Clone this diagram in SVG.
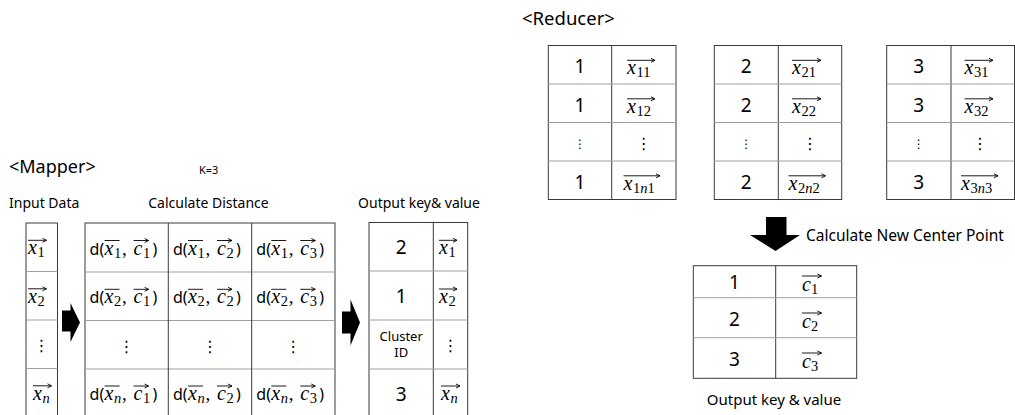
<svg xmlns="http://www.w3.org/2000/svg" width="1015" height="415" viewBox="0 0 1015 415">
<defs>
<marker id="va" markerWidth="6" markerHeight="6" refX="4.5" refY="3" orient="auto" markerUnits="userSpaceOnUse"><path d="M0.5,1 L4.5,3 L0.5,5" fill="none" stroke="#000" stroke-width="0.9"/></marker>
<style>
.t{font-family:"Noto Sans","DejaVu Sans",sans-serif;fill:#000}
.n{font-family:"Noto Sans","DejaVu Sans",sans-serif;font-size:19px;fill:#000;text-anchor:middle}
.m{font-family:"Liberation Serif","DejaVu Serif",serif;font-style:italic;font-size:20px;fill:#000}
.s{font-family:"Liberation Serif","DejaVu Serif",serif;font-size:14.5px;fill:#000}
.si{font-family:"Liberation Serif","DejaVu Serif",serif;font-size:14.5px;font-style:italic;fill:#000}
.pu{font-family:"Liberation Serif","DejaVu Serif",serif;font-size:19px;fill:#000}
.dp{font-family:"Noto Sans","DejaVu Sans",sans-serif;font-size:16px;fill:#000}
.dl{font-family:"DejaVu Sans",sans-serif;font-size:16px;fill:#000;text-anchor:middle}
.ds{font-family:"DejaVu Sans",sans-serif;font-size:12px;fill:#000;text-anchor:middle}
.v{stroke:#000;stroke-width:0.9;fill:none;marker-end:url(#va)}
.box{fill:#fff;stroke:#3a3a3a;stroke-width:1}
.vl{stroke:#3a3a3a;stroke-width:1}
.hl{stroke:#a0a0a0;stroke-width:1}
.blk{fill:#000}
</style>
</defs>
<rect width="1015" height="415" fill="#fff"/>

<g id="labels">
<text class="t" x="9" y="173" font-size="18">&lt;Mapper&gt;</text>
<text class="t" x="199" y="173.5" font-size="11">K=3</text>
<text class="t" x="9" y="208" font-size="14">Input Data</text>
<text class="t" x="208.5" y="208" font-size="14" text-anchor="middle">Calculate Distance</text>
<text class="t" x="419" y="208" font-size="14" text-anchor="middle">Output key&amp; value</text>
<text class="t" x="522" y="25" font-size="18.5">&lt;Reducer&gt;</text>
<text class="t" x="806" y="240.5" font-size="15.5">Calculate New Center Point</text>
<text class="t" x="774" y="405" font-size="15" text-anchor="middle">Output key &amp; value</text>
</g>

<g id="input-data">
<rect class="box" x="26" y="223" width="31.5" height="194" stroke="#7a7a7a"/>
<line class="hl" x1="26" y1="271.5" x2="57.5" y2="271.5"/>
<line class="hl" x1="26" y1="320" x2="57.5" y2="320"/>
<line class="hl" x1="26" y1="368.5" x2="57.5" y2="368.5"/>
<text class="m" x="28" y="254.3">x</text><text class="s" x="37.5" y="257.3">1</text>
<path class="v" d="M28,240.3H46.5"/>
<text class="m" x="28" y="302.8">x</text><text class="s" x="37.5" y="305.8">2</text>
<path class="v" d="M28,288.8H46.5"/>
<text class="dl" x="41.5" y="351">⋮</text>
<text class="m" x="33" y="399.8">x</text><text class="si" x="42.5" y="402.8">n</text>
<path class="v" d="M33,385.8H51.5"/>
</g>

<g id="distance-table">
<rect class="box" x="85" y="223" width="250" height="194"/>
<line class="hl" x1="85" y1="272" x2="335" y2="272"/>
<line class="hl" x1="85" y1="320.5" x2="335" y2="320.5"/>
<line class="hl" x1="85" y1="369" x2="335" y2="369"/>
<line class="vl" x1="168.3" y1="223" x2="168.3" y2="417"/>
<line class="vl" x1="251.7" y1="223" x2="251.7" y2="417"/>
<!-- row 1 -->
<text class="dp" x="89.6" y="254.5">d(</text><text class="m" x="104.6" y="254.5">x</text><text class="s" x="114.1" y="257.5">1</text><text class="pu" x="122.1" y="254.5">,</text><text class="m" x="133.6" y="254.5">c</text><text class="s" x="143.1" y="257.5">1</text><text class="dp" x="152.6" y="254.5">)</text>
<path class="v" d="M104.6,240.5H119.6M133.6,240.5H148.6"/>
<text class="dp" x="173" y="254.5">d(</text><text class="m" x="188" y="254.5">x</text><text class="s" x="197.5" y="257.5">1</text><text class="pu" x="205.5" y="254.5">,</text><text class="m" x="217" y="254.5">c</text><text class="s" x="226.5" y="257.5">2</text><text class="dp" x="236" y="254.5">)</text>
<path class="v" d="M188,240.5H203M217,240.5H232"/>
<text class="dp" x="256.3" y="254.5">d(</text><text class="m" x="271.3" y="254.5">x</text><text class="s" x="280.8" y="257.5">1</text><text class="pu" x="288.8" y="254.5">,</text><text class="m" x="300.3" y="254.5">c</text><text class="s" x="309.8" y="257.5">3</text><text class="dp" x="319.3" y="254.5">)</text>
<path class="v" d="M271.3,240.5H286.3M300.3,240.5H315.3"/>
<!-- row 2 -->
<text class="dp" x="89.6" y="303.3">d(</text><text class="m" x="104.6" y="303.3">x</text><text class="s" x="114.1" y="306.3">2</text><text class="pu" x="122.1" y="303.3">,</text><text class="m" x="133.6" y="303.3">c</text><text class="s" x="143.1" y="306.3">1</text><text class="dp" x="152.6" y="303.3">)</text>
<path class="v" d="M104.6,289.3H119.6M133.6,289.3H148.6"/>
<text class="dp" x="173" y="303.3">d(</text><text class="m" x="188" y="303.3">x</text><text class="s" x="197.5" y="306.3">2</text><text class="pu" x="205.5" y="303.3">,</text><text class="m" x="217" y="303.3">c</text><text class="s" x="226.5" y="306.3">2</text><text class="dp" x="236" y="303.3">)</text>
<path class="v" d="M188,289.3H203M217,289.3H232"/>
<text class="dp" x="256.3" y="303.3">d(</text><text class="m" x="271.3" y="303.3">x</text><text class="s" x="280.8" y="306.3">2</text><text class="pu" x="288.8" y="303.3">,</text><text class="m" x="300.3" y="303.3">c</text><text class="s" x="309.8" y="306.3">3</text><text class="dp" x="319.3" y="303.3">)</text>
<path class="v" d="M271.3,289.3H286.3M300.3,289.3H315.3"/>
<!-- row 3 -->
<text class="dl" x="126.6" y="351.5">⋮</text>
<text class="dl" x="210" y="351.5">⋮</text>
<text class="dl" x="293.3" y="351.5">⋮</text>
<!-- row 4 -->
<text class="dp" x="89.6" y="400">d(</text><text class="m" x="104.6" y="400">x</text><text class="si" x="114.1" y="403">n</text><text class="pu" x="122.1" y="400">,</text><text class="m" x="133.6" y="400">c</text><text class="s" x="143.1" y="403">1</text><text class="dp" x="152.6" y="400">)</text>
<path class="v" d="M104.6,386H119.6M133.6,386H148.6"/>
<text class="dp" x="173" y="400">d(</text><text class="m" x="188" y="400">x</text><text class="si" x="197.5" y="403">n</text><text class="pu" x="205.5" y="400">,</text><text class="m" x="217" y="400">c</text><text class="s" x="226.5" y="403">2</text><text class="dp" x="236" y="400">)</text>
<path class="v" d="M188,386H203M217,386H232"/>
<text class="dp" x="256.3" y="400">d(</text><text class="m" x="271.3" y="400">x</text><text class="si" x="280.8" y="403">n</text><text class="pu" x="288.8" y="400">,</text><text class="m" x="300.3" y="400">c</text><text class="s" x="309.8" y="403">3</text><text class="dp" x="319.3" y="400">)</text>
<path class="v" d="M271.3,386H286.3M300.3,386H315.3"/>
</g>

<g id="mapper-output">
<rect class="box" x="369" y="222.5" width="98.7" height="194.5"/>
<line class="vl" x1="433.3" y1="222.5" x2="433.3" y2="417"/>
<line class="hl" x1="369" y1="271" x2="467.7" y2="271"/>
<line class="hl" x1="369" y1="320" x2="467.7" y2="320"/>
<line class="hl" x1="369" y1="369" x2="467.7" y2="369"/>
<text class="n" x="401.2" y="254.3">2</text>
<text class="n" x="401.2" y="303">1</text>
<text class="t" x="401.2" y="340.5" font-size="13" text-anchor="middle">Cluster</text>
<text class="t" x="401.2" y="356.5" font-size="13" text-anchor="middle">ID</text>
<text class="n" x="401.2" y="400.5">3</text>
<text class="m" x="439" y="254.3">x</text><text class="s" x="448.5" y="257.3">1</text>
<path class="v" d="M439,240.3H457"/>
<text class="m" x="439" y="303">x</text><text class="s" x="448.5" y="306">2</text>
<path class="v" d="M439,289H457"/>
<text class="dl" x="450.5" y="351">⋮</text>
<text class="m" x="441" y="400">x</text><text class="si" x="450.5" y="403">n</text>
<path class="v" d="M441,386H460"/>
</g>

<g id="connectors">
<polygon class="blk" points="62,310.5 70.5,310.5 70.5,303 80,322.5 70.5,342 70.5,331.5 62,331.5"/>
<polygon class="blk" points="342,311.5 350.5,311.5 350.5,299.5 360,322.5 350.5,345.5 350.5,333.5 342,333.5"/>
<polygon class="blk" points="766,217 786.5,217 786.5,235 800,235 775.5,251 750,235 766,235"/>
</g>

<g id="reducer-1">
<rect class="box" x="548.3" y="45.5" width="127.7" height="154"/>
<line class="vl" x1="611.7" y1="45.5" x2="611.7" y2="199.5"/>
<line class="hl" x1="548.3" y1="84" x2="676" y2="84"/>
<line class="hl" x1="548.3" y1="122.5" x2="676" y2="122.5"/>
<line class="hl" x1="548.3" y1="161" x2="676" y2="161"/>
<text class="n" x="580" y="73">1</text>
<text class="n" x="580" y="111.5">1</text>
<text class="ds" x="580" y="148">⋮</text>
<text class="n" x="580" y="188.5">1</text>
<text class="m" x="627" y="74.3">x</text><text class="s" x="636.5" y="77.3">11</text>
<path class="v" d="M627,60.3H655"/>
<text class="m" x="627" y="112.8">x</text><text class="s" x="636.5" y="115.8">12</text>
<path class="v" d="M627,98.8H655"/>
<text class="dl" x="643.8" y="148.5">⋮</text>
<text class="m" x="623.5" y="189.8">x</text><text class="s" x="633" y="192.8">1<tspan class="si">n</tspan>1</text>
<path class="v" d="M623.5,175.8H660"/>
</g>

<g id="reducer-2">
<rect class="box" x="714.3" y="45.5" width="127.4" height="154"/>
<line class="vl" x1="778.3" y1="45.5" x2="778.3" y2="199.5"/>
<line class="hl" x1="714.3" y1="84" x2="841.7" y2="84"/>
<line class="hl" x1="714.3" y1="122.5" x2="841.7" y2="122.5"/>
<line class="hl" x1="714.3" y1="161" x2="841.7" y2="161"/>
<text class="n" x="746.3" y="73">2</text>
<text class="n" x="746.3" y="111.5">2</text>
<text class="ds" x="746.3" y="148">⋮</text>
<text class="n" x="746.3" y="188.5">2</text>
<text class="m" x="792" y="74.3">x</text><text class="s" x="801.5" y="77.3">21</text>
<path class="v" d="M792,60.3H821"/>
<text class="m" x="792" y="112.8">x</text><text class="s" x="801.5" y="115.8">22</text>
<path class="v" d="M792,98.8H821"/>
<text class="dl" x="810" y="148.5">⋮</text>
<text class="m" x="788.5" y="189.8">x</text><text class="s" x="798" y="192.8">2<tspan class="si">n</tspan>2</text>
<path class="v" d="M788.5,175.8H825.5"/>
</g>

<g id="reducer-3">
<rect class="box" x="886.7" y="45.5" width="127.8" height="154"/>
<line class="vl" x1="951" y1="45.5" x2="951" y2="199.5"/>
<line class="hl" x1="886.7" y1="84" x2="1014.5" y2="84"/>
<line class="hl" x1="886.7" y1="122.5" x2="1014.5" y2="122.5"/>
<line class="hl" x1="886.7" y1="161" x2="1014.5" y2="161"/>
<text class="n" x="918.8" y="73">3</text>
<text class="n" x="918.8" y="111.5">3</text>
<text class="ds" x="918.8" y="148">⋮</text>
<text class="n" x="918.8" y="188.5">3</text>
<text class="m" x="964.5" y="74.3">x</text><text class="s" x="974" y="77.3">31</text>
<path class="v" d="M964.5,60.3H993"/>
<text class="m" x="964.5" y="112.8">x</text><text class="s" x="974" y="115.8">32</text>
<path class="v" d="M964.5,98.8H993"/>
<text class="dl" x="980" y="148.5">⋮</text>
<text class="m" x="961" y="189.8">x</text><text class="s" x="970.5" y="192.8">3<tspan class="si">n</tspan>3</text>
<path class="v" d="M961,175.8H998"/>
</g>

<g id="center-output">
<rect class="box" x="693.3" y="265.7" width="163.4" height="112.6"/>
<line class="vl" x1="775.7" y1="265.7" x2="775.7" y2="378.3"/>
<line class="hl" x1="693.3" y1="297.7" x2="856.7" y2="297.7"/>
<line class="hl" x1="693.3" y1="337.7" x2="856.7" y2="337.7"/>
<text class="n" x="734.5" y="289.3">1</text>
<text class="n" x="734.5" y="326">2</text>
<text class="n" x="734.5" y="365.7">3</text>
<text class="m" x="802" y="290.5">c</text><text class="s" x="811" y="293.5">1</text>
<path class="v" d="M802,276H821.5"/>
<text class="m" x="802" y="327.5">c</text><text class="s" x="811" y="330.5">2</text>
<path class="v" d="M802,313H821.5"/>
<text class="m" x="802" y="367.5">c</text><text class="s" x="811" y="370.5">3</text>
<path class="v" d="M802,353H821.5"/>
</g>
</svg>
